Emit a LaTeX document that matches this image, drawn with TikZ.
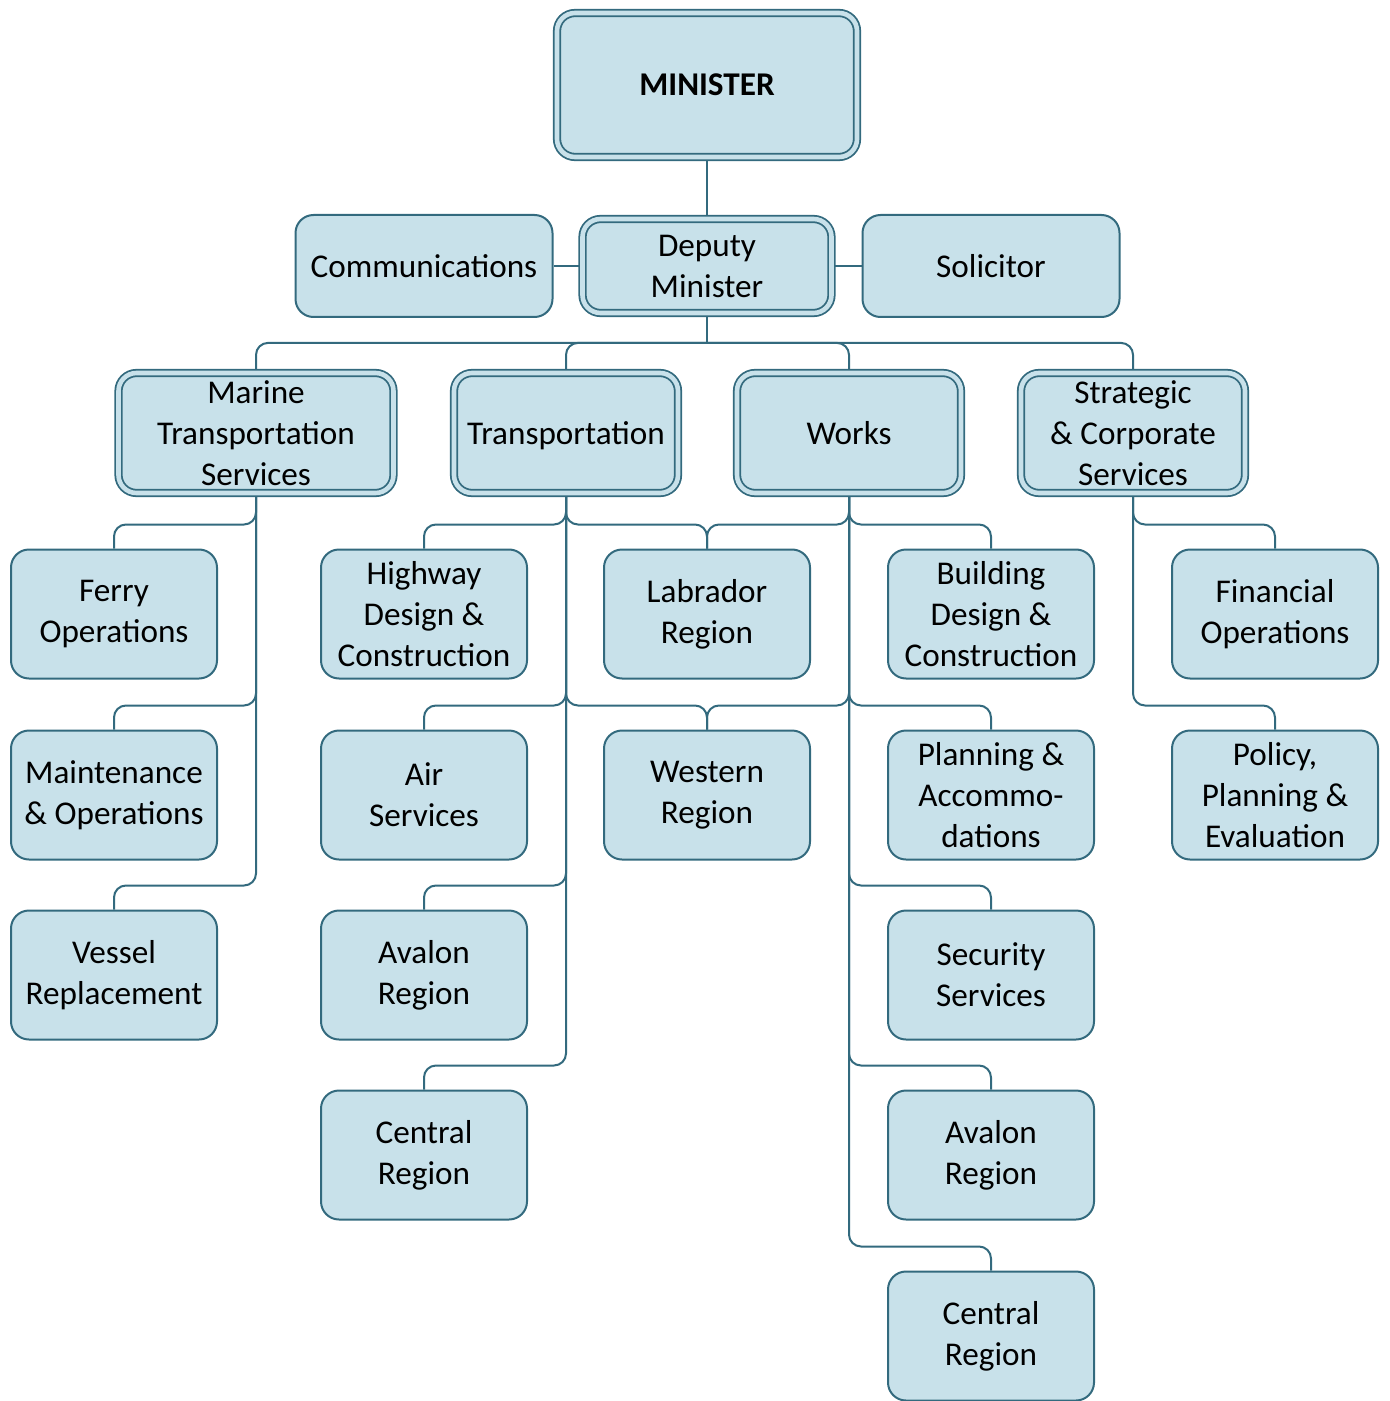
\documentclass[tikz,border=0pt]{standalone}
\usepackage{fontspec}
\setmainfont{Carlito}
\usetikzlibrary{calc,backgrounds}
\definecolor{boxfill}{HTML}{C8E1EA}
\definecolor{boxline}{HTML}{336A7E}

\begin{document}
\begin{tikzpicture}[
		x=0.5pt, y=-0.5pt,
		every node/.style={rectangle,rounded corners=9pt,draw=boxline,fill=boxfill,line width=1pt,inner sep=0pt,align=center,font=\fontsize{16.6}{20.5}\selectfont},
		unit/.style={minimum width=103pt,minimum height=64.5pt},
		head/.style={double=boxfill,double distance=2.3pt,line width=0.9pt},
		division/.style={head,minimum width=112pt,minimum height=60pt},
		link/.style={draw=boxline,line width=1pt,rounded corners=6pt}
		]
		\useasboundingbox (0,0) rectangle (1390,1401);
		
		% top of the chart
		\node[head,minimum width=150pt,minimum height=72pt,font=\bfseries\fontsize{16.6}{20.5}\selectfont] (min) at (707,85) {MINISTER};
		\node[head,minimum width=124.5pt,minimum height=47pt] (dep) at (707,266) {Deputy\\Minister};
		\node[minimum width=128.5pt,minimum height=51pt] (com) at (424,266) {Communications};
		\node[minimum width=128.5pt,minimum height=51pt] (sol) at (991,266) {Solicitor};
		
		% divisions
		\node[division,minimum width=137.5pt] (mar) at (256,433) {Marine\\Transportation\\Services};
		\node[division] (tra) at (566,433) {\raisebox{0pt}[\height][0pt]{Transportation}};
		\node[division] (wor) at (849,433) {Works};
		\node[division] (str) at (1133,433) {Strategic\\\& Corporate\\Services};
		
		% marine
		\node[unit] (fer) at (114,614) {Ferry\\Operations};
		\node[unit] (mai) at (114,795) {Maintenance\\\& Operations};
		\node[unit] (ves) at (114,975) {Vessel\\Replacement};
		
		% transportation
		\node[unit] (hwy) at (424,614) {Highway\\Design \&\\Construction};
		\node[unit] (air) at (424,795) {Air\\Services};
		\node[unit] (ava) at (424,975) {Avalon\\Region};
		\node[unit] (cen) at (424,1155) {Central\\Region};
		\node[unit] (lab) at (707,614) {Labrador\\Region};
		\node[unit] (wes) at (707,795) {Western\\Region};
		
		% works
		\node[unit] (bld) at (991,614) {Building\\Design \&\\Construction};
		\node[unit] (pla) at (991,795) {Planning \&\\Accommo-\\dations};
		\node[unit] (sec) at (991,975) {Security\\Services};
		\node[unit] (wav) at (991,1155) {Avalon\\Region};
		\node[unit] (wce) at (991,1336) {Central\\Region};
		
		% strategic
		\node[unit] (fin) at (1275,614) {Financial\\Operations};
		\node[unit] (pol) at (1275,795) {Policy,\\Planning \&\\Evaluation};
		
		\begin{scope}[on background layer]
			\draw[link] (min) -- (dep);
			\draw[link] (com) -- (dep);
			\draw[link] (dep) -- (sol);
			\draw[link] (dep.south) -- ++(0,29);
			\foreach \c in {mar,tra,wor,str}
				\draw[link] ($(dep.south)+(0,29)$) -| (\c.north);
			\foreach \p/\c in {mar/fer,mar/mai,mar/ves,tra/hwy,tra/lab,tra/air,tra/wes,tra/ava,tra/cen,wor/lab,wor/wes,wor/bld,wor/pla,wor/sec,wor/wav,wor/wce,str/fin,str/pol}
				\draw[link] (\p.south) |- ($(\c.north)+(0,-24)$) -- (\c.north);
		\end{scope}
\end{tikzpicture}
\end{document}
